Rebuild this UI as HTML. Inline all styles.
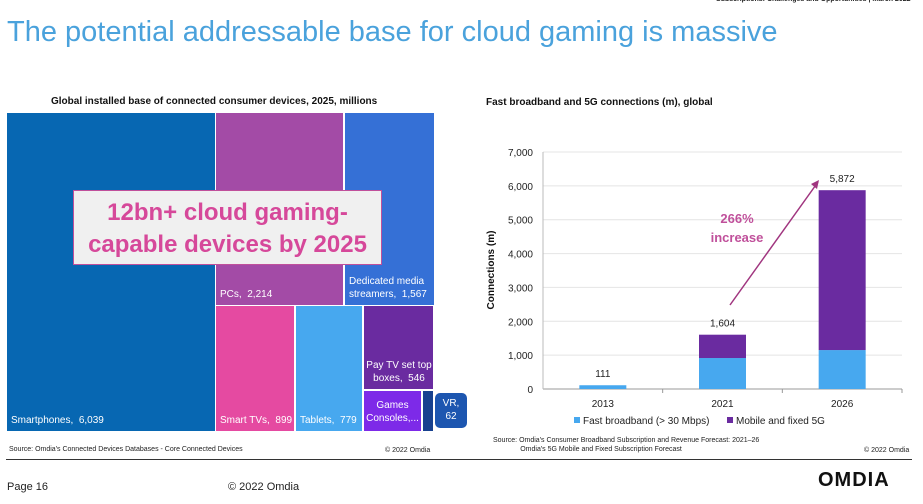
<!DOCTYPE html>
<html><head><meta charset="utf-8"><style>
body{margin:0;width:923px;height:504px;background:#fff;position:relative;overflow:hidden;font-family:"Liberation Sans",sans-serif}
.a{position:absolute}
.t{position:absolute;color:#fff;font-size:10px;line-height:13px}
</style></head><body>
<div class="a" style="left:716px;top:-4px;font-size:7px;font-weight:bold;color:#222">Subscriptions: Challenges and Opportunities | March 2022</div>
<div class="a" style="left:7px;top:16px;font-size:29px;color:#4aa2dc;white-space:nowrap">The potential addressable base for cloud gaming is massive</div>

<div class="a" style="left:51px;top:96px;font-size:10px;font-weight:bold;color:#111">Global installed base of connected consumer devices, 2025, millions</div>
<div>
<div class="a" style="left:7px;top:113px;width:208px;height:318px;background:#0767b2"><div class="t" style="left:4px;bottom:4px">Smartphones,&nbsp; 6,039</div></div>
<div class="a" style="left:216px;top:113px;width:127px;height:192px;background:#a34ba6"><div class="t" style="left:4px;bottom:4px">PCs,&nbsp; 2,214</div></div>
<div class="a" style="left:345px;top:113px;width:89px;height:192px;background:#3570d6"><div class="t" style="left:4px;bottom:4px">Dedicated media streamers,&nbsp; 1,567</div></div>
<div class="a" style="left:216px;top:306px;width:78px;height:125px;background:#e54aa1"><div class="t" style="left:4px;bottom:4px">Smart TVs,&nbsp; 899</div></div>
<div class="a" style="left:296px;top:306px;width:66px;height:125px;background:#47a8ef"><div class="t" style="left:4px;bottom:4px">Tablets,&nbsp; 779</div></div>
<div class="a" style="left:364px;top:306px;width:69px;height:83px;background:#6a2ba0"><div class="t" style="left:2px;bottom:4px;text-align:center;width:66px">Pay TV set top boxes,&nbsp; 546</div></div>
<div class="a" style="left:364px;top:391px;width:57px;height:40px;background:#7d2ae8"><div class="t" style="left:0;top:8px;width:57px;text-align:center">Games Consoles,...</div></div>
<div class="a" style="left:423px;top:391px;width:10px;height:40px;background:#17418f"></div>
<div class="a" style="left:435px;top:393px;width:32px;height:35px;background:#1d56b0;border-radius:5px;color:#fff;font-size:10px;text-align:center;line-height:13px;padding-top:4px;box-sizing:border-box">VR,<br>62</div>
<div class="a" style="left:73px;top:190px;width:309px;height:75px;background:#f0f0f0;border:1px solid #c0509b;color:#d6489a;font-size:24px;font-weight:bold;text-align:center;line-height:32px;padding-top:6px;box-sizing:border-box">12bn+ cloud gaming-<br>capable devices by 2025</div>
</div>
<div class="a" style="left:9px;top:446px;font-size:7px;color:#222">Source: Omdia's Connected Devices Databases - Core Connected Devices</div>
<div class="a" style="left:385px;top:447px;font-size:7px;color:#222">© 2022 Omdia</div>

<div class="a" style="left:486px;top:97px;font-size:10px;font-weight:bold;color:#111">Fast broadband and 5G connections (m), global</div>
<svg class="a" id="chart" style="left:0;top:0" width="923" height="504"></svg>
<div class="a" style="left:493px;top:436px;font-size:7px;color:#222;line-height:9px">Source: Omdia's Consumer Broadband Subscription and Revenue Forecast: 2021–26<br>&nbsp;&nbsp;&nbsp;&nbsp;&nbsp;&nbsp;&nbsp;&nbsp;&nbsp;&nbsp;&nbsp;&nbsp;&nbsp;&nbsp;Omdia's 5G Mobile and Fixed Subscription Forecast</div>
<div class="a" style="left:864px;top:447px;font-size:7px;color:#222">© 2022 Omdia</div>

<div class="a" style="left:6px;top:459px;width:906px;height:1px;background:#333"></div>
<div class="a" style="left:7px;top:481px;font-size:11px;color:#222">Page 16</div>
<div class="a" style="left:228px;top:481px;font-size:11px;color:#222">© 2022 Omdia</div>
<div class="a" style="left:818px;top:469px;font-size:20px;font-weight:bold;letter-spacing:1px;color:#111">OMDIA</div>

<script>
const categories=["2013","2021","2026"];
const fastBroadband=[111,915,1150];
const mobile5G=[0,689,4722];
const totalLabels=["111","1,604","5,872"];
const yTicks=[0,1000,2000,3000,4000,5000,6000,7000];
const NS="http://www.w3.org/2000/svg";
const svg=document.getElementById("chart");
const x0=543,x1=902,yBase=389,yTop=152,yMax=7000;
const y=v=>yBase-(v/yMax)*(yBase-yTop);
const band=(x1-x0)/categories.length;
const xc=i=>x0+band*(i+0.5);
function mk(tag,attrs){const e=document.createElementNS(NS,tag);for(const k in attrs)e.setAttribute(k,attrs[k]);svg.appendChild(e);return e;}
yTicks.forEach(t=>{
 const g=mk("line",{x1:x0,x2:x1,y1:y(t),y2:y(t),stroke:t===0?"#999":"#e4e4e4","stroke-width":1});
 
 
 const l=mk("text",{x:x0-10,y:y(t)+4,"text-anchor":"end","font-size":10,fill:"#222","font-family":"Liberation Sans"});
 l.textContent=t.toLocaleString("en-US");
 
 
});
mk("line",{x1:x0,x2:x0,y1:yTop,y2:yBase,stroke:"#bbb"});
for(let i=1;i<=categories.length;i++){mk("line",{x1:x0+band*i,x2:x0+band*i,y1:yBase,y2:yBase+4,stroke:"#999"});}
const bw=47;
categories.forEach((c,i)=>{
 const r1=mk("rect",{x:xc(i)-bw/2,y:y(fastBroadband[i]),width:bw,height:yBase-y(fastBroadband[i]),fill:"#47a8ef"});
 
 
 const top=fastBroadband[i]+mobile5G[i];
 const r2=mk("rect",{x:xc(i)-bw/2,y:y(top),width:bw,height:y(fastBroadband[i])-y(top),fill:"#6a2ba0"});
 
 
 const tl=mk("text",{x:xc(i),y:y(top)-8,"text-anchor":"middle","font-size":10,fill:"#222","font-family":"Liberation Sans"});
 tl.textContent=totalLabels[i];
 
 
 const xl=mk("text",{x:xc(i),y:yBase+18,"text-anchor":"middle","font-size":10,fill:"#222","font-family":"Liberation Sans"});
 xl.textContent=c;
 
 
});
const yt=mk("text",{x:0,y:0,transform:"translate(494,270) rotate(-90)","text-anchor":"middle","font-size":10,"font-weight":"bold",fill:"#111","font-family":"Liberation Sans"});
yt.textContent="Connections (m)";


const ar=mk("line",{x1:730,y1:305,x2:818,y2:182,stroke:"#a0357f","stroke-width":1.5});


mk("polygon",{points:"819,180 811,184 817,189",fill:"#a0357f"});
const a1=mk("text",{x:737,y:223,"text-anchor":"middle","font-size":13,"font-weight":"bold",fill:"#c0509b","font-family":"Liberation Sans"});a1.textContent="266%";


const a2=mk("text",{x:737,y:242,"text-anchor":"middle","font-size":13,"font-weight":"bold",fill:"#c0509b","font-family":"Liberation Sans"});a2.textContent="increase";
const lg=[["#47a8ef","Fast broadband (> 30 Mbps)",574],["#6a2ba0","Mobile and fixed 5G",727]];
lg.forEach(([col,txt,lx])=>{
 const s=mk("rect",{x:lx,y:417,width:6,height:6,fill:col});
 
 
 const t=mk("text",{x:lx+9,y:424,"font-size":10,fill:"#222","font-family":"Liberation Sans"});t.textContent=txt;
 
 
});
</script>
</body></html>
